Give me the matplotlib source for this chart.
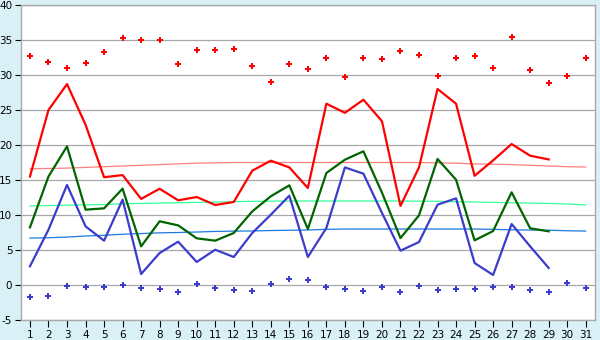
import matplotlib
matplotlib.use("Agg")
import matplotlib.pyplot as plt
import numpy as np

plt.rcParams["axes.unicode_minus"] = False

days = list(range(1, 32))
day_labels = [str(d) for d in days]

tmax = [15.5, 25.0, 28.7, 22.9, 15.4, 15.7, 12.3, 13.75, 12.1, 12.57,
        11.43, 11.86, 16.33, 17.76, 16.8, 13.86, 25.9, 24.6, 26.47, 23.4,
        11.3, 16.8, 28.0, 25.9, 15.6, 17.8, 20.14, 18.47, 17.94]
tmean = [8.23, 15.5, 19.8, 10.76, 10.95, 13.76, 5.52, 9.1, 8.52, 6.67,
         6.33, 7.43, 10.52, 12.67, 14.24, 8.0, 16.0, 17.9, 19.1, 13.2,
         6.7, 9.95, 18.0, 15.04, 6.38, 7.71, 13.24, 8.1, 7.67]
tmin = [2.67, 7.9, 14.3, 8.38, 6.33, 12.2, 1.57, 4.57, 6.19, 3.29,
        5.04, 4.0, 7.43, 10.04, 12.76, 4.0, 8.14, 16.8, 15.9, 10.3,
        4.9, 6.14, 11.47, 12.38, 3.14, 1.43, 8.71, 5.52, 2.43]

rec_max = [32.66, 31.86, 31.0, 31.71, 33.3, 35.3, 35.0, 35.0, 31.57, 33.57,
           33.57, 33.71, 31.29, 29.0, 31.57, 30.86, 32.43, 29.71, 32.43, 32.29,
           33.4, 32.86, 29.86, 32.43, 32.71, 31.0, 35.43, 30.71, 28.86, 29.86, 32.43]
rec_min = [-1.71, -1.57, -0.14, -0.29, -0.29, 0.0, -0.43, -0.57, -1.0, 0.14,
           -0.38, -0.67, -0.86, 0.14, 0.9, 0.71, -0.29, -0.57, -0.86, -0.29,
           -1.0, -0.14, -0.71, -0.57, -0.57, -0.29, -0.29, -0.71, -1.0, 0.29, -0.43]

norm_max = [16.6, 16.65, 16.7, 16.8, 16.9, 17.0, 17.1, 17.2, 17.3, 17.4,
            17.45, 17.5, 17.5, 17.5, 17.5, 17.5, 17.5, 17.5, 17.5, 17.5,
            17.5, 17.5, 17.45, 17.4, 17.3, 17.25, 17.2, 17.1, 17.0, 16.9, 16.85]
norm_mean = [11.3, 11.35, 11.4, 11.45, 11.5, 11.6, 11.65, 11.7, 11.75, 11.8,
             11.85, 11.9, 11.95, 11.97, 12.0, 12.0, 12.0, 12.0, 12.0, 12.0,
             12.0, 11.97, 11.95, 11.9, 11.86, 11.8, 11.75, 11.7, 11.65, 11.57, 11.45]
norm_min = [6.7, 6.75, 6.85, 7.0, 7.1, 7.25, 7.35, 7.45, 7.5, 7.57,
            7.65, 7.7, 7.72, 7.78, 7.82, 7.86, 7.95, 8.0, 8.0, 8.0,
            8.0, 8.0, 8.0, 8.0, 8.0, 7.95, 7.88, 7.85, 7.82, 7.75, 7.7]

yticks = [-5, 0, 5, 10, 15, 20, 25, 30, 35, 40]

bg = "#daf0f7"
fig = plt.figure(figsize=(6.0, 3.4), dpi=100, facecolor=bg)
ax = fig.add_axes([20.7 / 600, 1 - 320 / 340, (595 - 20.7) / 600, 315 / 340])
ax.set_facecolor("white")

ax.plot(days, norm_max, color="#ff8080", lw=0.9, zorder=2)
ax.plot(days, norm_mean, color="#33ff99", lw=0.9, zorder=2)
ax.plot(days, norm_min, color="#1a7ae0", lw=0.9, zorder=2)

n = len(tmax)
ax.plot(days[:n], tmax, color="#ff0000", lw=1.6, zorder=3)
ax.plot(days[:n], tmean, color="#006400", lw=1.6, zorder=3)
ax.plot(days[:n], tmin, color="#3c3ccc", lw=1.6, zorder=3)

ax.plot(days, rec_max, linestyle="none", marker="P", markersize=3.8,
        color="#ff0000", markeredgewidth=0, zorder=4)
ax.plot(days, rec_min, linestyle="none", marker="P", markersize=3.8,
        color="#3c3ccc", markeredgewidth=0, zorder=4)

ax.set_xlim(0.5, 31.5)
ax.set_ylim(-5, 40)
ax.set_xticks(days)
ax.set_xticklabels(day_labels)
ax.set_yticks(yticks)
ax.grid(axis="y", color="#a8a8a8", lw=0.9, zorder=1)
ax.set_axisbelow(True)
for s in ax.spines.values():
    s.set_color("#a8a8a8")
    s.set_linewidth(1.0)
ax.tick_params(axis="both", labelsize=7.5, colors="#000000", length=4,
               width=0.8, pad=2)
ax.tick_params(axis="x", length=5)
for lbl in ax.get_xticklabels() + ax.get_yticklabels():
    lbl.set_color("black")

fig.savefig("out.png", dpi=100, facecolor=bg)
